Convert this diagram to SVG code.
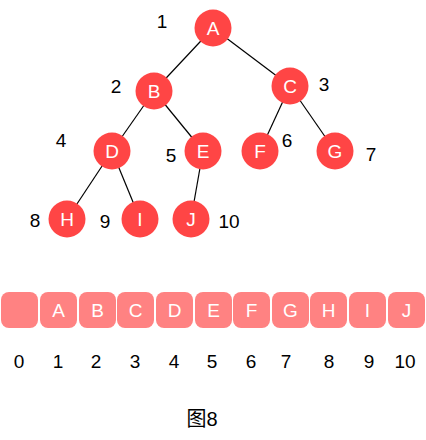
<svg xmlns="http://www.w3.org/2000/svg" width="426" height="440" viewBox="0 0 426 440">
<style>
.n circle{fill:#FF4545}
.n text,.c text{fill:#fff;font-family:"Liberation Sans",Arial,sans-serif;font-size:19px;text-anchor:middle}
.c rect{fill:#FF8282}
.lb{fill:#000;font-family:"Liberation Sans",Arial,sans-serif;font-size:19px;text-anchor:middle}
#edges line{stroke:#000;stroke-width:1.2}
</style>
<rect width="426" height="440" fill="#fff"/>
<g id="edges">
<line x1="213" y1="28" x2="154" y2="91"/>
<line x1="213" y1="28" x2="290" y2="86"/>
<line x1="154" y1="91" x2="112" y2="151"/>
<line x1="154" y1="91" x2="203" y2="151"/>
<line x1="290" y1="86" x2="260" y2="151"/>
<line x1="290" y1="86" x2="335" y2="151"/>
<line x1="112" y1="151" x2="67" y2="219"/>
<line x1="112" y1="151" x2="140" y2="219"/>
<line x1="203" y1="151" x2="191" y2="219"/>
</g>
<g id="nA" class="n"><circle cx="213" cy="28" r="18.5"/><text x="213" y="34.5">A</text></g>
<g id="nB" class="n"><circle cx="154" cy="91" r="18.5"/><text x="154" y="97.5">B</text></g>
<g id="nC" class="n"><circle cx="290" cy="86" r="18.5"/><text x="290" y="92.5">C</text></g>
<g id="nD" class="n"><circle cx="112" cy="151" r="18.5"/><text x="112" y="157.5">D</text></g>
<g id="nE" class="n"><circle cx="203" cy="151" r="18.5"/><text x="203" y="157.5">E</text></g>
<g id="nF" class="n"><circle cx="260" cy="151" r="18.5"/><text x="260" y="157.5">F</text></g>
<g id="nG" class="n"><circle cx="335" cy="151" r="18.5"/><text x="335" y="157.5">G</text></g>
<g id="nH" class="n"><circle cx="67" cy="219" r="18.5"/><text x="67" y="225.5">H</text></g>
<g id="nI" class="n"><circle cx="140" cy="219" r="18.5"/><text x="140" y="225.5">I</text></g>
<g id="nJ" class="n"><circle cx="191" cy="219" r="18.5"/><text x="191" y="225.5">J</text></g>
<g id="treeLabels" class="lb">
<text x="162" y="28">1</text>
<text x="116" y="93">2</text>
<text x="324" y="91">3</text>
<text x="61" y="147">4</text>
<text x="171" y="162">5</text>
<text x="287" y="147">6</text>
<text x="371" y="161">7</text>
<text x="35" y="227">8</text>
<text x="105" y="228">9</text>
<text x="229" y="228">10</text>
</g>
<g id="array" class="c">
<g id="a0"><rect x="1" y="292" width="37" height="36" rx="8"/></g>
<g id="a1"><rect x="40" y="292" width="37" height="36" rx="8"/><text x="58.5" y="316.5">A</text></g>
<g id="a2"><rect x="79" y="292" width="37" height="36" rx="8"/><text x="97.5" y="316.5">B</text></g>
<g id="a3"><rect x="117" y="292" width="37" height="36" rx="8"/><text x="135.5" y="316.5">C</text></g>
<g id="a4"><rect x="156" y="292" width="37" height="36" rx="8"/><text x="174.5" y="316.5">D</text></g>
<g id="a5"><rect x="195" y="292" width="37" height="36" rx="8"/><text x="213.5" y="316.5">E</text></g>
<g id="a6"><rect x="233" y="292" width="37" height="36" rx="8"/><text x="251.5" y="316.5">F</text></g>
<g id="a7"><rect x="272" y="292" width="37" height="36" rx="8"/><text x="290.5" y="316.5">G</text></g>
<g id="a8"><rect x="310" y="292" width="37" height="36" rx="8"/><text x="328.5" y="316.5">H</text></g>
<g id="a9"><rect x="349" y="292" width="37" height="36" rx="8"/><text x="367.5" y="316.5">I</text></g>
<g id="a10"><rect x="388" y="292" width="37" height="36" rx="8"/><text x="406.5" y="316.5">J</text></g>
</g>
<g id="indices" class="lb">
<text x="19" y="368">0</text>
<text x="58" y="368">1</text>
<text x="96" y="368">2</text>
<text x="135" y="368">3</text>
<text x="174" y="368">4</text>
<text x="212" y="368">5</text>
<text x="251" y="368">6</text>
<text x="286" y="368">7</text>
<text x="329" y="368">8</text>
<text x="369" y="368">9</text>
<text x="405" y="368">10</text>
</g>
<text class="lb" x="202" y="426" style="font-family:'Liberation Sans','Noto Sans CJK SC',sans-serif;font-size:20px">图8</text>
</svg>
